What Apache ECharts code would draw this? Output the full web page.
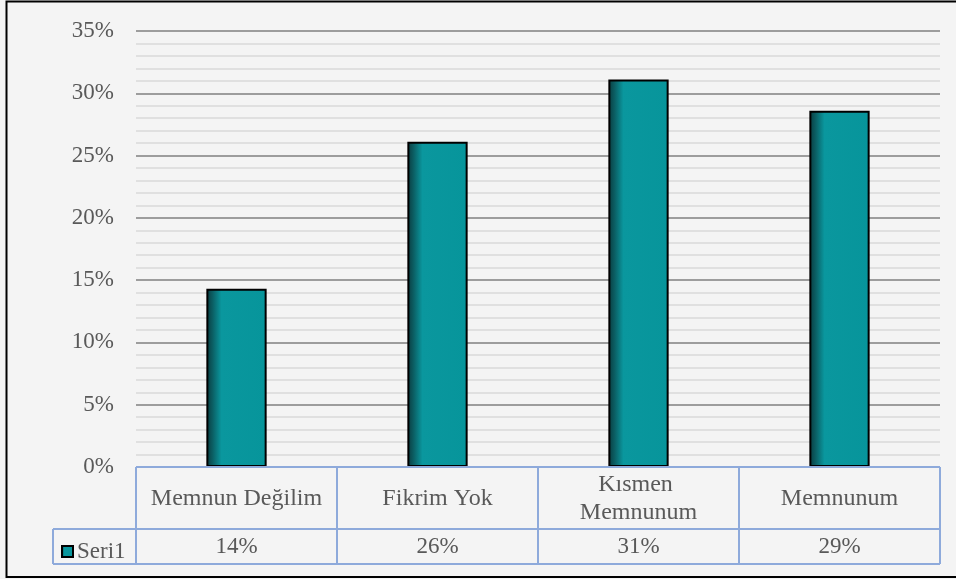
<!DOCTYPE html>
<html>
<head>
<meta charset="utf-8">
<script src="https://cdn.jsdelivr.net/npm/echarts@6/dist/echarts.min.js"></script>
<style>
html,body{margin:0;padding:0;background:#f4f4f4;}
#c{width:956px;height:579px;}
</style>
</head>
<body>
<div id="c"></div>
<script>
const categories = ['Memnun Değilim', 'Fikrim Yok', 'Kısmen Memnunum', 'Memnunum'];
const values = [0.143, 0.261, 0.311, 0.286];
const tableValues = ['14%', '26%', '31%', '29%'];
const seriesName = 'Seri1';

const FONT = 'Liberation Serif';
const TXT = '#595959';
const GL = 136, GR = 16, GT = 31, GB = 112;
const W = 956, H = 579;
const plotRight = W - GR, plotBottom = H - GB;
const row1 = 529, row2 = 564, legLeft = 53;
const TABLE = '#8eaadb';

const chart = echarts.init(document.getElementById('c'), null, {renderer: 'canvas'});

const barColor = new echarts.graphic.LinearGradient(0, 0, 1, 0, [
  {offset: 0, color: '#0a3a3e'},
  {offset: 0.1, color: '#0b5d62'},
  {offset: 0.25, color: '#0a979e'},
  {offset: 1, color: '#07959b'}
]);

const lines = [];
function hline(x1, x2, y) {
  lines.push({type: 'line', z: 100, shape: {x1: x1, y1: y, x2: x2, y2: y}, style: {stroke: TABLE, lineWidth: 2}});
}
function vline(x, y1, y2) {
  lines.push({type: 'line', z: 100, shape: {x1: x, y1: y1, x2: x, y2: y2}, style: {stroke: TABLE, lineWidth: 2}});
}
hline(GL, plotRight, plotBottom);
hline(legLeft, plotRight, row1);
hline(legLeft, plotRight, row2);
vline(legLeft, row1, row2);
const band = (plotRight - GL) / categories.length;
for (let i = 0; i <= categories.length; i++) {
  vline(GL + band * i, plotBottom, row2);
}

chart.setOption({
  backgroundColor: '#f4f4f4',
  animation: false,
  textStyle: {fontFamily: FONT},
  grid: {left: GL, right: GR, top: GT, bottom: GB, containLabel: false},
  legend: {
    data: [seriesName],
    left: 56, top: 535,
    icon: 'rect',
    itemWidth: 11, itemHeight: 11, itemGap: 4,
    textStyle: {fontFamily: FONT, fontSize: 23, color: TXT, padding: [0, 0, 0, -1]}
  },
  xAxis: [{
    type: 'category',
    data: categories,
    axisLine: {show: false},
    axisTick: {show: false},
    axisLabel: {
      interval: 0,
      margin: 32,
      verticalAlign: 'middle',
      fontFamily: FONT, fontSize: 24, color: TXT,
      width: 185, overflow: 'break', lineHeight: 28
    }
  }, {
    type: 'category',
    position: 'bottom',
    data: categories,
    axisLine: {show: false},
    axisTick: {show: false},
    axisLabel: {
      interval: 0,
      margin: 80,
      verticalAlign: 'middle',
      fontFamily: FONT, fontSize: 23, color: TXT,
      formatter: function (v, idx) { return tableValues[idx]; }
    }
  }],
  yAxis: {
    type: 'value',
    min: 0, max: 0.35, interval: 0.05,
    axisLine: {show: false},
    axisTick: {show: false},
    axisLabel: {
      margin: 22,
      fontFamily: FONT, fontSize: 23, color: TXT,
      formatter: function (v) { return Math.round(v * 100) + '%'; }
    },
    splitLine: {show: true, lineStyle: {color: '#808080', width: 1.5}},
    minorTick: {show: false, splitNumber: 5},
    minorSplitLine: {show: true, lineStyle: {color: '#d9d9d9', width: 1.5}}
  },
  series: [{
    name: seriesName,
    type: 'bar',
    data: values,
    barWidth: '30%',
    itemStyle: {color: barColor, borderColor: '#000', borderWidth: 2}
  }],
  graphic: lines.concat([{
    type: 'rect', z: 100,
    shape: {x: 6.5, y: 1.5, width: 960, height: 575.5},
    style: {fill: 'none', stroke: '#000', lineWidth: 2}
  }])
});
</script>
</body>
</html>
